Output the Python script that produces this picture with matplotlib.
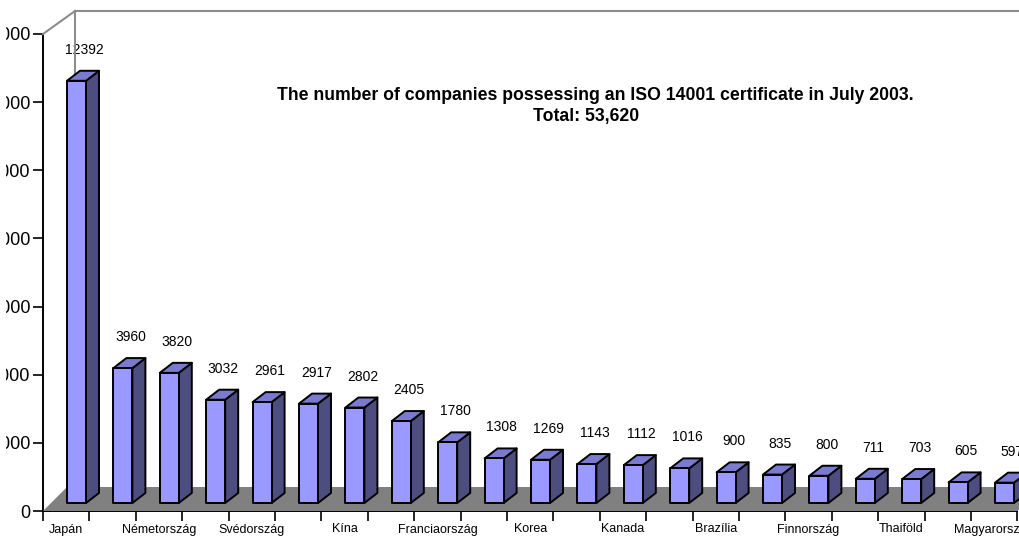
import matplotlib
matplotlib.use("Agg")
import matplotlib.pyplot as plt
from matplotlib.patches import Polygon
from matplotlib.transforms import IdentityTransform, Bbox
from matplotlib.lines import Line2D

plt.rcParams['font.family'] = ['Liberation Sans', 'DejaVu Sans']

countries = ["Japán", "USA", "Németország", "Egyesült Királyság", "Svédország", "Spanyolország",
             "Kína", "Olaszország", "Franciaország", "Ausztrália", "Korea", "Hollandia",
             "Kanada", "Svájc", "Brazília", "Tajvan", "Finnország", "Dánia", "Thaiföld",
             "India", "Magyarország"]
values = [12392, 3960, 3820, 3032, 2961, 2917, 2802, 2405, 1780, 1308, 1269,
          1143, 1112, 1016, 900, 835, 800, 711, 703, 605, 597]
yticks = [0, 2000, 4000, 6000, 8000, 10000, 12000, 14000]
title_lines = ["The number of companies possessing an ISO 14001 certificate in July 2003.",
               "Total: 53,620"]

W, H = 1019, 537
fig = plt.figure(figsize=(W / 100, H / 100), dpi=100)
ax = fig.add_axes([43 / W, 26 / H, 974.4 / W, 477 / H])
n = len(values)
ax.set_xlim(0, n)
ax.set_ylim(0, 14000)

for s in ["top", "right"]:
    ax.spines[s].set_visible(False)
for s in ["left", "bottom"]:
    ax.spines[s].set_linewidth(1.4)
    ax.spines[s].set_color("black")
    ax.spines[s].set_zorder(5)

ax.set_yticks(yticks)
ax.set_yticklabels([str(v) for v in yticks], fontsize=13)
ax.tick_params(axis='y', length=7, width=1.2, pad=2)

ax.set_xticks([i + 0.5 for i in range(n)])
ax.set_xticklabels([c if i % 2 == 0 else "" for i, c in enumerate(countries)], fontsize=9)
ax.tick_params(axis='x', which='major', length=0, pad=9)
ax.set_xticks(list(range(n + 1)), minor=True)
ax.tick_params(axis='x', which='minor', length=7, width=1.2)

# the original chart is cropped on the left: clip y tick labels
clip = Bbox.from_extents(6, 0, 60, H)
for lab in ax.get_yticklabels():
    lab.set_clip_box(clip)
    lab.set_clip_on(True)

fig.canvas.draw()
td = ax.transData
ident = IdentityTransform()

# floor
x0, y0 = td.transform((0, 0))
x1, _ = td.transform((n, 0))
floor = Polygon([(x0, y0), (x1, y0), (x1 + 24, y0 + 24), (x0 + 24, y0 + 24)],
                closed=True, facecolor="#808080", edgecolor="none",
                transform=ident, clip_on=False, zorder=1)
fig.add_artist(floor)

# back wall lines
_, ytop = td.transform((0, 14000))
wall_col = "#8c8c8c"
fig.add_artist(Line2D([x0, x0 + 32], [ytop, ytop + 23], color=wall_col, lw=1.5,
                      transform=ident, zorder=1))
fig.add_artist(Line2D([x0 + 32, W + 10], [ytop + 23, ytop + 23], color=wall_col, lw=1.5,
                      transform=ident, zorder=1))
fig.add_artist(Line2D([x0 + 32, x0 + 32], [ytop + 23, y0 + 24], color=wall_col, lw=1.5,
                      transform=ident, zorder=1))

front_c = "#9999FF"
side_c = "#4D4D80"
top_c = "#7A7AD0"
ddx, ddy = 13, 10
for i, v in enumerate(values):
    bx, by = td.transform((i, 0))
    _, vy = td.transform((i, v))
    L = bx + 24
    R = bx + 43
    B = by + 8
    T = vy + 8
    side = Polygon([(R, B), (R + ddx, B + ddy), (R + ddx, T + ddy), (R, T)], closed=True,
                   facecolor=side_c, edgecolor="black", lw=1.4, joinstyle="round",
                   transform=ident, clip_on=False, zorder=3)
    top = Polygon([(L, T), (R, T), (R + ddx, T + ddy), (L + ddx, T + ddy)], closed=True,
                  facecolor=top_c, edgecolor="black", lw=1.4, joinstyle="round",
                  transform=ident, clip_on=False, zorder=3)
    front = Polygon([(L, B), (R, B), (R, T), (L, T)], closed=True,
                    facecolor=front_c, edgecolor="black", lw=1.4, joinstyle="round",
                    transform=ident, clip_on=False, zorder=4)
    for p in (side, top, front):
        fig.add_artist(p)
    ax.annotate(str(v), xy=(i + 0.5, v), xytext=(18, 8 + 31), textcoords="offset pixels",
                ha="center", va="center", fontsize=10, zorder=6, annotation_clip=False)

fig.text(595 / W, 1 - 95 / H, title_lines[0], ha="center", va="center",
         fontsize=12.7, fontweight="bold")
fig.text(586 / W, 1 - 117 / H, title_lines[1], ha="center", va="center",
         fontsize=12.7, fontweight="bold")

fig.savefig("out.png", dpi=100)
